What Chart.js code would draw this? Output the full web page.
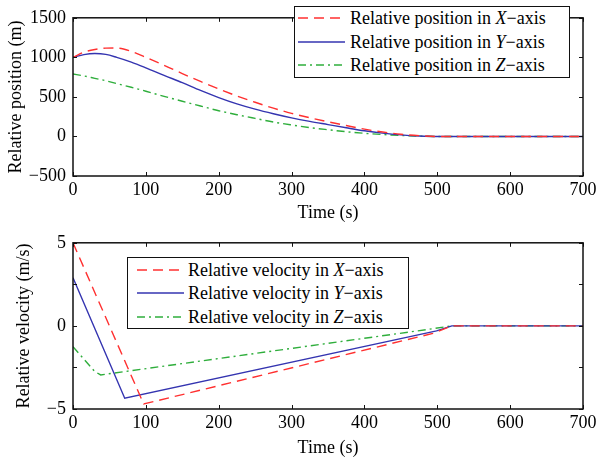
<!DOCTYPE html>
<html>
<head>
<meta charset="utf-8">
<script src="https://cdn.jsdelivr.net/npm/chart.js@4.4.1/dist/chart.umd.min.js"></script>
<style>
  body { margin: 0; background: #fff; width: 600px; height: 463px; position: relative; overflow: hidden; font-family: "Liberation Serif", serif; }
  canvas { position: absolute; left: 0; }
  #posChart { top: 0; }
  #velChart { top: 225px; }
  .legend { position: absolute; background: #fff; border: 1.5px solid #111; box-sizing: border-box; font-size: 18px; color: #000; }
  .legend .row { position: absolute; left: 0; height: 24px; line-height: 24px; white-space: nowrap; }
  .legend svg { position: absolute; top: 7px; }
  .legend span { position: absolute; top: 0; }
  #posLegend { left: 294px; top: 6px; width: 276px; height: 72px; }
  #velLegend { left: 127px; top: 257px; width: 282px; height: 72px; }
</style>
</head>
<body>
<canvas id="posChart" width="600" height="225"></canvas>
<canvas id="velChart" width="600" height="238"></canvas>
<div class="legend" id="posLegend"></div>
<div class="legend" id="velLegend"></div>
<script>
// ---- data ----
const axisNames = ['X', 'Y', 'Z'];

const posTime = [0, 15, 30, 45, 60, 80, 100, 125, 150, 175, 200, 225, 250, 275, 300, 325, 350, 375, 400, 425, 450, 475, 500, 600, 700];
const posX = [1000, 1065, 1100, 1117, 1118, 1075, 1000, 900, 795, 695, 600, 512, 432, 358, 292, 236, 186, 138, 92, 56, 28, 10, 0, 0, 0];
const posY = [1000, 1035, 1048, 1037, 1000, 940, 868, 772, 680, 582, 492, 412, 345, 287, 235, 190, 150, 110, 72, 42, 20, 6, 0, 0, 0];
const posZ = [790, 765, 735, 705, 668, 622, 572, 507, 445, 385, 325, 275, 228, 182, 145, 112, 85, 60, 40, 24, 12, 4, 0, 0, 0];

const velTimeX = [0, 97, 494, 520, 700];
const velX = [5, -4.7, -0.45, 0, 0];
const velTimeY = [0, 71, 499, 520, 700];
const velY = [2.9, -4.35, -0.3, 0, 0];
const velTimeZ = [0, 30, 38, 486, 520, 700];
const velZ = [-1.25, -2.75, -2.95, -0.22, 0, 0];

const timeTicks = [0, 100, 200, 300, 400, 500, 600, 700];
const posTicks = [-500, 0, 500, 1000, 1500];
const velTicks = [-5, -2.5, 0, 2.5, 5];

// ---- styles ----
const colors = ['#ff3030', '#3434b0', '#2fae3c'];
const dashes = [[10, 6], [], [8, 4, 2, 4]];
const font = { family: '"Liberation Serif", serif', size: 18 };

const pts = (xs, ys) => xs.map((t, i) => ({ x: t, y: ys[i] }));
const minus = v => String(v).replace('-', '\u2212');

const framePlugin = {
  id: 'frame',
  afterDatasetsDraw(chart) {
    const { ctx, chartArea: a, scales: { x, y } } = chart;
    ctx.save();
    ctx.strokeStyle = '#111';
    ctx.lineWidth = 1;
    ctx.beginPath();
    x.ticks.forEach(t => {
      const px = Math.round(x.getPixelForValue(t.value)) + 0.5;
      ctx.moveTo(px, a.bottom); ctx.lineTo(px, a.bottom - 4);
      ctx.moveTo(px, a.top); ctx.lineTo(px, a.top + 4);
    });
    y.ticks.forEach(t => {
      const py = Math.round(y.getPixelForValue(t.value)) + 0.5;
      ctx.moveTo(a.left, py); ctx.lineTo(a.left + 4, py);
      ctx.moveTo(a.right, py); ctx.lineTo(a.right - 4, py);
    });
    ctx.stroke();
    ctx.lineWidth = 1.5;
    ctx.strokeRect(a.left, a.top, a.right - a.left, a.bottom - a.top);
    ctx.restore();
  }
};

function makeDatasets(series, smooth) {
  return series.map((s, i) => ({
    label: axisNames[i],
    data: s,
    borderColor: colors[i],
    borderDash: dashes[i],
    borderWidth: 1.4,
    pointRadius: 0,
    fill: false,
    cubicInterpolationMode: smooth ? 'monotone' : 'default',
    tension: 0
  }));
}

function makeOptions(o) {
  return {
    responsive: false,
    animation: false,
    layout: { padding: { left: 0, right: 17, top: o.padTop, bottom: 0 } },
    plugins: { legend: { display: false }, tooltip: { enabled: false } },
    scales: {
      x: {
        type: 'linear', min: 0, max: 700,
        afterBuildTicks: s => { s.ticks = timeTicks.map(v => ({ value: v })); },
        ticks: { font, color: '#000', padding: 3, maxRotation: 0, callback: v => minus(v) },
        grid: { display: false, drawTicks: false },
        border: { display: false },
        title: { display: true, text: 'Time (s)', font, color: '#000', padding: { top: 0, bottom: o.xTitlePad } },
        afterFit: s => { s.height = o.xHeight; }
      },
      y: {
        type: 'linear', min: o.yMin, max: o.yMax,
        afterBuildTicks: s => { s.ticks = o.yTicks.map(v => ({ value: v })); },
        ticks: { font, color: '#000', padding: 7, callback: v => (v % o.labelEvery === 0 ? minus(v) : '') },
        grid: { display: false, drawTicks: false },
        border: { display: false },
        title: { display: true, text: o.yTitle, font, color: '#000', padding: { top: o.yTitlePad, bottom: 0 } },
        afterFit: s => { s.width = 73; }
      }
    }
  };
}

new Chart(document.getElementById('posChart'), {
  type: 'line',
  data: { datasets: makeDatasets([pts(posTime, posX), pts(posTime, posY), pts(posTime, posZ)], true) },
  options: makeOptions({ padTop: 7, xHeight: 49, xTitlePad: 1, yMin: -500, yMax: 1500, yTicks: posTicks, labelEvery: 500, yTitle: 'Relative position (m)', yTitlePad: 5 }),
  plugins: [framePlugin]
});

new Chart(document.getElementById('velChart'), {
  type: 'line',
  data: { datasets: makeDatasets([pts(velTimeX, velX), pts(velTimeY, velY), pts(velTimeZ, velZ)], false) },
  options: makeOptions({ padTop: 16, xHeight: 54, xTitlePad: 4, yMin: -5, yMax: 5, yTicks: velTicks, labelEvery: 5, yTitle: 'Relative velocity (m/s)', yTitlePad: 13 }),
  plugins: [framePlugin]
});

// boxed legends with italic axis letters
function buildLegend(id, prefix, sampleLeft, sampleWidth, textLeft, rowTops) {
  const box = document.getElementById(id);
  axisNames.forEach((name, i) => {
    const row = document.createElement('div');
    row.className = 'row';
    row.style.top = rowTops[i] + 'px';
    row.innerHTML =
      `<svg width="${sampleWidth}" height="10" style="left:${sampleLeft}px">` +
      `<line x1="0" y1="5" x2="${sampleWidth}" y2="5" stroke="${colors[i]}" stroke-width="1.3" stroke-dasharray="${dashes[i].join(' ')}"/></svg>` +
      `<span style="left:${textLeft}px">${prefix} in <i>${name}</i>\u2212axis</span>`;
    box.appendChild(row);
  });
}
buildLegend('posLegend', 'Relative position', 3, 47, 55, [-1, 23, 46]);
buildLegend('velLegend', 'Relative velocity', 9, 47, 60, [0, 23, 47]);
</script>
</body>
</html>
